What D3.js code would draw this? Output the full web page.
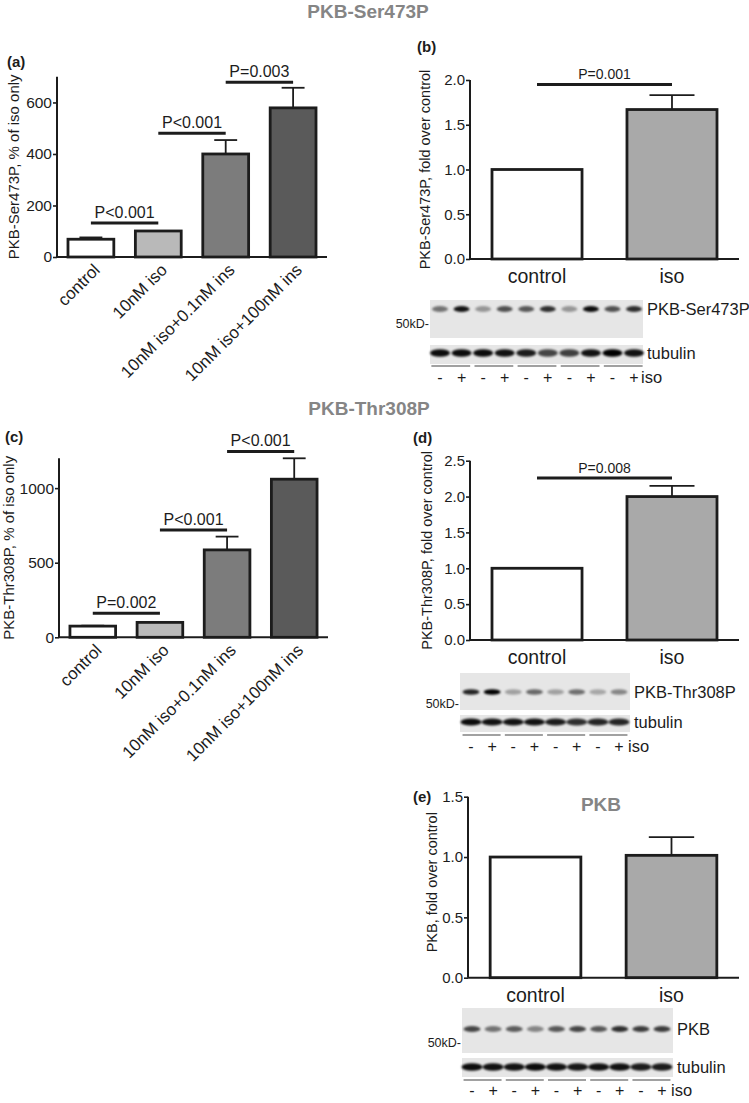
<!DOCTYPE html>
<html><head><meta charset="utf-8">
<script src="https://cdn.jsdelivr.net/npm/d3@7"></script>
<style>
html,body{margin:0;padding:0;background:#fff;}
svg{display:block;font-family:"Liberation Sans",Arial,Helvetica,sans-serif;}
</style></head>
<body>
<svg id="fig" width="749" height="1103"></svg>
<script>
// ---------- data ----------
const catsMulti = ["control","10nM iso","10nM iso+0.1nM ins","10nM iso+100nM ins"];
const fillsMulti = ["#ffffff","#b9b9b9","#7c7c7c","#5a5a5a"];
const serValsA = [69, 101, 400, 579];
const serErrsA = [76, 101, 454, 657];
const serSigA = [{a:0,b:1,y:132,t:"P<0.001"},{a:1,b:2,y:480,t:"P<0.001"},{a:2,b:3,y:678,t:"P=0.003"}];
const serTicksA = [0,200,400,600];

const thrValsC = [75, 100, 586, 1060];
const thrErrsC = [78, 100, 675, 1200];
const thrSigC = [{a:0,b:1,y:161,t:"P=0.002"},{a:1,b:2,y:720,t:"P<0.001"},{a:2,b:3,y:1246,t:"P<0.001"}];
const thrTicksC = [0,500,1000];

const catsTwo = ["control","iso"];
const fillsTwo = ["#ffffff","#a9a9a9"];
const serValsB = [1.0, 1.67];
const serErrsB = [1.0, 1.83];
const serSigB = [{a:0,b:1,y:1.95,t:"P=0.001"}];
const ticksB = [0,0.5,1.0,1.5,2.0];

const thrValsD = [1.0, 2.0];
const thrErrsD = [1.0, 2.15];
const thrSigD = [{a:0,b:1,y:2.26,t:"P=0.008"}];
const ticksD = [0,0.5,1.0,1.5,2.0,2.5];

const pkbValsE = [1.0, 1.014];
const pkbErrsE = [1.0, 1.165];
const ticksE = [0,0.5,1.0,1.5];

// blot band intensities (0..1), lanes alternate - / + iso
const serBlot = [0.5,0.92,0.35,0.65,0.62,0.8,0.35,0.95,0.65,0.8];
const serTub  = [0.95,0.95,0.95,0.92,0.88,0.7,0.72,0.92,1.0,0.92];
const thrBlot = [0.85,1.0,0.3,0.55,0.3,0.52,0.28,0.42];
const thrTub  = [0.95,0.92,0.92,0.92,0.88,0.8,0.84,0.84];
const pkbBlot = [0.7,0.5,0.6,0.42,0.62,0.7,0.62,0.8,0.74,0.74];
const pkbTub  = [0.95,0.92,0.92,0.95,0.92,0.9,0.92,0.92,0.88,0.88];
const isoSigns = ["-","+"];

// ---------- drawing ----------
const svg = d3.select("#fig");
const defs = svg.append("defs");
defs.append("filter").attr("id","blur").attr("x","-50%").attr("y","-100%").attr("width","200%").attr("height","300%")
  .append("feGaussianBlur").attr("stdDeviation","1.3 0.9");

const INK = "#1c1c1c";
const TITLE = "#858585";

function title(txt, x, y){
  svg.append("text").attr("x",x).attr("y",y).attr("text-anchor","middle")
    .attr("font-size",19).attr("font-weight","bold").attr("fill",TITLE).text(txt);
}
function panelLabel(txt,x,y){
  svg.append("text").attr("x",x).attr("y",y).attr("font-size",15).attr("font-weight","bold").attr("fill",INK).text(txt);
}

function barPanel(c){
  const g = svg.append("g");
  const y = d3.scaleLinear().domain([0,c.ymax]).range([c.y0,c.yTop]);
  const x = d3.scaleBand().domain(c.cats).range([c.x0,c.x1]).paddingInner(c.pi).paddingOuter(c.po);
  // bars
  g.selectAll("rect.bar").data(c.vals).join("rect")
    .attr("x",(d,i)=>x(c.cats[i])).attr("width",x.bandwidth())
    .attr("y",d=>y(d)).attr("height",d=>c.y0-y(d))
    .attr("fill",(d,i)=>c.fills[i]).attr("stroke",INK).attr("stroke-width",2.8);
  // error bars
  c.errs.forEach((e,i)=>{
    if(e<=c.vals[i]) return;
    const cx = x(c.cats[i])+x.bandwidth()/2, hw = x.bandwidth()/4;
    g.append("line").attr("x1",cx).attr("x2",cx).attr("y1",y(c.vals[i])).attr("y2",y(e)).attr("stroke",INK).attr("stroke-width",1.8);
    g.append("line").attr("x1",cx-hw).attr("x2",cx+hw).attr("y1",y(e)).attr("y2",y(e)).attr("stroke",INK).attr("stroke-width",1.8);
  });
  // axes
  const ax = g.append("g").attr("transform",`translate(${c.x0},0)`)
    .call(d3.axisLeft(y).tickValues(c.ticks).tickFormat(c.fmt).tickSize(4).tickPadding(1));
  ax.select(".domain").attr("stroke",INK).attr("stroke-width",2).attr("d",`M0,${c.yTop}V${c.y0}`);
  ax.selectAll(".tick line").attr("stroke",INK).attr("stroke-width",1.6);
  ax.selectAll(".tick text").attr("font-size",c.tickFs).attr("fill",INK).attr("font-family","Liberation Sans, Arial, sans-serif");
  g.append("line").attr("x1",c.x0).attr("x2",c.x1).attr("y1",c.y0).attr("y2",c.y0).attr("stroke",INK).attr("stroke-width",2);
  // y label
  g.append("text").attr("transform",`translate(${c.ylx},${(c.y0+c.yTop)/2 + (c.yloff||0)}) rotate(-90)`)
    .attr("text-anchor","middle").attr("dy","0.35em").attr("font-size",c.ylFs||14.5).attr("fill",INK).text(c.ylabel);
  // x labels
  if(c.rot){
    c.cats.forEach(cat=>{
      const cx = x(cat)+x.bandwidth()/2;
      g.append("text").attr("transform",`translate(${cx+10},${c.y0+14}) rotate(-45)`)
        .attr("text-anchor","end").attr("font-size",17).attr("fill",INK).text(cat);
    });
  } else {
    c.cats.forEach(cat=>{
      const cx = x(cat)+x.bandwidth()/2;
      g.append("text").attr("x",cx).attr("y",c.y0+24).attr("text-anchor","middle").attr("font-size",19.5).attr("fill",INK).text(cat);
    });
  }
  // significance
  (c.sig||[]).forEach(s=>{
    const xa = x(c.cats[s.a])+x.bandwidth()/2, xb = x(c.cats[s.b])+x.bandwidth()/2;
    g.append("line").attr("x1",xa).attr("x2",xb).attr("y1",y(s.y)).attr("y2",y(s.y)).attr("stroke",INK).attr("stroke-width",3);
    g.append("text").attr("x",(xa+xb)/2).attr("y",y(s.y)-5).attr("text-anchor","middle").attr("font-size",c.sigFs).attr("fill",INK).text(s.t);
  });
}

function blot(b){
  const g = svg.append("g");
  const lx = d3.scalePoint().domain(d3.range(b.top.length)).range([b.l0,b.l1]);
  const step = lx.step();
  // backgrounds
  g.append("rect").attr("x",b.bx0).attr("y",b.ty0).attr("width",b.bx1-b.bx0).attr("height",b.ty1-b.ty0).attr("fill","#e6e6e6");
  g.append("rect").attr("x",b.bx0).attr("y",b.uy0).attr("width",b.bx1-b.bx0).attr("height",b.uy1-b.uy0).attr("fill","#e6e6e6");
  const band = (arr, yc, rx, ry) => g.append("g").attr("filter","url(#blur)")
    .selectAll("ellipse").data(arr).join("ellipse")
    .attr("cx",(d,i)=>lx(i)).attr("cy",yc).attr("rx",rx).attr("ry",ry)
    .attr("fill","#050505").attr("fill-opacity",d=>d);
  band(b.top, b.topY, b.rx, b.ryTop);
  band(b.tub, b.tubY, b.rxTub, b.ryTub);
  // labels
  g.append("text").attr("x",b.bx1+4).attr("y",b.topY).attr("dy","0.36em").attr("font-size",16.5).attr("fill",INK).text(b.name);
  g.append("text").attr("x",b.bx1+4).attr("y",b.tubY).attr("dy","0.36em").attr("font-size",16.5).attr("fill",INK).text("tubulin");
  g.append("text").attr("x",b.bx0-1).attr("y",b.kdY).attr("dy","0.36em").attr("text-anchor","end").attr("font-size",12.5).attr("fill",INK).text("50kD-");
  // pair lines and signs
  const nPairs = b.top.length/2;
  d3.range(nPairs).forEach(p=>{
    g.append("line").attr("x1",lx(2*p)-step*0.4).attr("x2",lx(2*p+1)+step*0.4)
      .attr("y1",b.lineY).attr("y2",b.lineY).attr("stroke","#444").attr("stroke-width",1.2);
  });
  g.selectAll("text.sign").data(b.top).join("text").attr("class","sign")
    .attr("x",(d,i)=>lx(i)).attr("y",b.signY).attr("dy","0.36em").attr("text-anchor","middle")
    .attr("font-size",16).attr("fill",INK).text((d,i)=>isoSigns[i%2]);
  g.append("text").attr("x",b.bx1-2).attr("y",b.signY).attr("dy","0.36em").attr("font-size",16.5).attr("fill",INK).text("iso");
}

// titles
title("PKB-Ser473P", 368, 18);
title("PKB-Thr308P", 369, 415);
title("PKB", 601, 811);

panelLabel("(a)", 7, 67);
panelLabel("(b)", 417, 52);
panelLabel("(c)", 5, 442);
panelLabel("(d)", 413, 443);
panelLabel("(e)", 413, 802);

// (a)
barPanel({cats:catsMulti, vals:serValsA, errs:serErrsA, fills:fillsMulti, ymax:700,
  x0:57, x1:327, y0:257, yTop:76.7, pi:0.32, po:0.163, ticks:serTicksA, fmt:d3.format("d"), tickFs:15.5,
  ylabel:"PKB-Ser473P, % of iso only", ylFs:15, ylx:14, rot:true, sig:serSigA, sigFs:16});
// (c)
barPanel({cats:catsMulti, vals:thrValsC, errs:thrErrsC, fills:fillsMulti, ymax:1200,
  x0:59, x1:328, y0:637.3, yTop:458.3, pi:0.32, po:0.163, ticks:thrTicksC, fmt:d3.format("d"), tickFs:15.5,
  ylabel:"PKB-Thr308P, % of iso only", ylFs:15, ylx:9, rot:true, sig:thrSigC, sigFs:16});
// (b)
barPanel({cats:catsTwo, vals:serValsB, errs:serErrsB, fills:fillsTwo, ymax:2.0,
  x0:470, x1:739, y0:259, yTop:80, pi:0.333, po:0.163, ticks:ticksB, fmt:d3.format(".1f"), tickFs:15,
  ylabel:"PKB-Ser473P, fold over control", ylx:425, rot:false, sig:serSigB, sigFs:14});
// (d)
barPanel({cats:catsTwo, vals:thrValsD, errs:thrErrsD, fills:fillsTwo, ymax:2.5,
  x0:470, x1:739, y0:640, yTop:460.7, pi:0.333, po:0.163, ticks:ticksD, fmt:d3.format(".1f"), tickFs:15,
  ylabel:"PKB-Thr308P, fold over control", ylx:427, rot:false, sig:thrSigD, sigFs:14});
// (e)
barPanel({cats:catsTwo, vals:pkbValsE, errs:pkbErrsE, fills:fillsTwo, ymax:1.5,
  x0:468, x1:739, y0:977.7, yTop:796.7, pi:0.333, po:0.163, ticks:ticksE, fmt:d3.format(".1f"), tickFs:15,
  ylabel:"PKB, fold over control", ylx:432, yloff:-5, rot:false, sig:[], sigFs:14});

// blots
blot({name:"PKB-Ser473P", top:serBlot, tub:serTub, l0:440, l1:634, bx0:430, bx1:643,
  uy0:300, uy1:338, ty0:345, ty1:364, topY:309, tubY:353, kdY:323, rx:8, ryTop:3, rxTub:10, ryTub:3.8, lineY:366, signY:377});
blot({name:"PKB-Thr308P", top:thrBlot, tub:thrTub, l0:471, l1:619, bx0:460, bx1:630,
  uy0:673, uy1:710, ty0:715, ty1:732, topY:692, tubY:722, kdY:703, rx:8.5, ryTop:2.8, rxTub:10.5, ryTub:3.6, lineY:735, signY:746});
blot({name:"PKB", top:pkbBlot, tub:pkbTub, l0:472, l1:662, bx0:462, bx1:673,
  uy0:1008, uy1:1053, ty0:1058, ty1:1077, topY:1029, tubY:1067, kdY:1042, rx:8.5, ryTop:3, rxTub:10.5, ryTub:3.8, lineY:1080, signY:1090});
</script>
</body></html>
